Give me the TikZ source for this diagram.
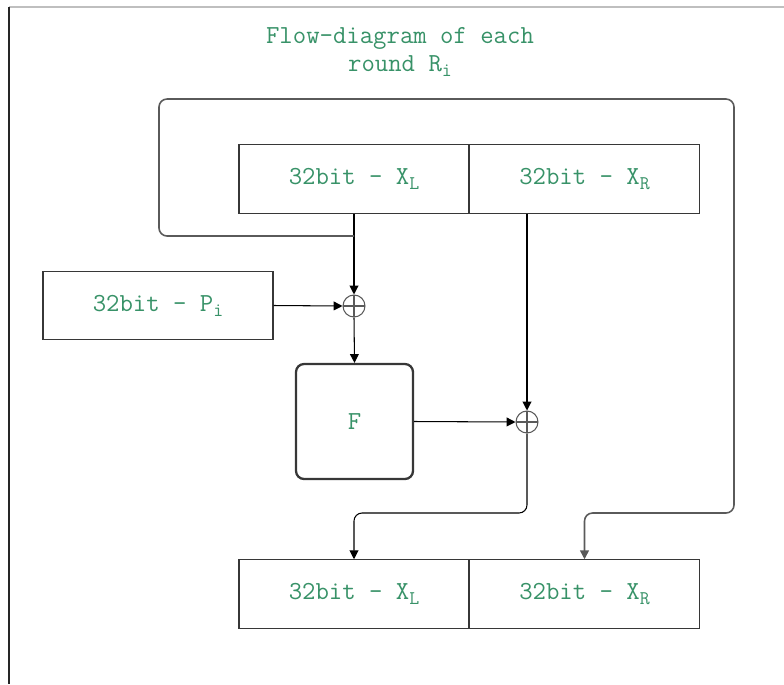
\documentclass[tikz,border=0pt]{standalone}
\usepackage{fontspec}
\usetikzlibrary{arrows.meta,calc,positioning}
\definecolor{txtgreen}{RGB}{56,146,104}
\definecolor{boxgray}{RGB}{55,55,55}
\definecolor{loopgray}{RGB}{90,90,90}
\newcommand{\lowidx}[1]{\raisebox{-0.45ex}{\fontsize{11}{11}\selectfont #1}}

\begin{document}
\begin{tikzpicture}[x=0.02cm,y=-0.02cm,>={Triangle[length=5pt,width=5pt]},
  word/.style={draw=boxgray,line width=0.6pt,minimum width=4.6cm,minimum height=1.37cm,inner sep=0pt,
    font=\ttfamily\fontsize{14.8}{17}\selectfont,text=txtgreen},
  fbox/.style={word,line width=1.3pt,rounded corners=0.16cm,minimum width=2.34cm,minimum height=2.3cm},
  xor/.style={draw=loopgray,line width=0.6pt,circle,minimum size=0.44cm,inner sep=0pt,
    path picture={\draw[loopgray,line width=0.6pt] (path picture bounding box.north)--(path picture bounding box.south)
      (path picture bounding box.west)--(path picture bounding box.east);}},
  flow/.style={->,line width=0.6pt,black},
  loop/.style={->,line width=0.9pt,loopgray,rounded corners=0.16cm}]
\useasboundingbox (0,0) rectangle (784,684);
% frame edges
\draw[gray!50,line width=0.6pt] (9,7)--(784,7);
\draw[black!85,line width=1.1pt] (9,7)--(9,684);
% title
\node[font=\ttfamily\fontsize{14.8}{15.5}\selectfont,text=txtgreen,align=center] (ttl) at (400,52)
  {Flow-diagram of each\\round R\lowidx{i}};
% halves in and out
\node[word] (xlt) at (354,179) {32bit - X\lowidx{L}};
\node[word] (xrt) at (584.5,179) {32bit - X\lowidx{R}};
\node[word] (xlb) at (354,594) {32bit - X\lowidx{L}};
\node[word] (xrb) at (584.5,594) {32bit - X\lowidx{R}};
\node[word] (pi) at (158,305.5) {32bit - P\lowidx{i}};
\node[xor] (ox1) at (354,306) {};
\node[fbox] (f) at (354.5,421.5) {F};
\node[xor] (ox2) at (527,422) {};
\coordinate (tap) at (354,236);
% connections
\draw[flow] (xlt.south)--(ox1.north);
\draw[flow] (pi.east)--(ox1.west);
\draw[flow] (ox1.south)--(f.north);
\draw[flow] (ox2 |- xrt.south)--(ox2.north);
\draw[flow] (f.east)--(ox2.west);
\draw[flow,rounded corners=0.16cm] (ox2.south)--(527,513)-|(xlb.north);
\draw[loop] (tap)-|(159,99)-|(734,513)-|(xrb.north);
\end{tikzpicture}
\end{document}
